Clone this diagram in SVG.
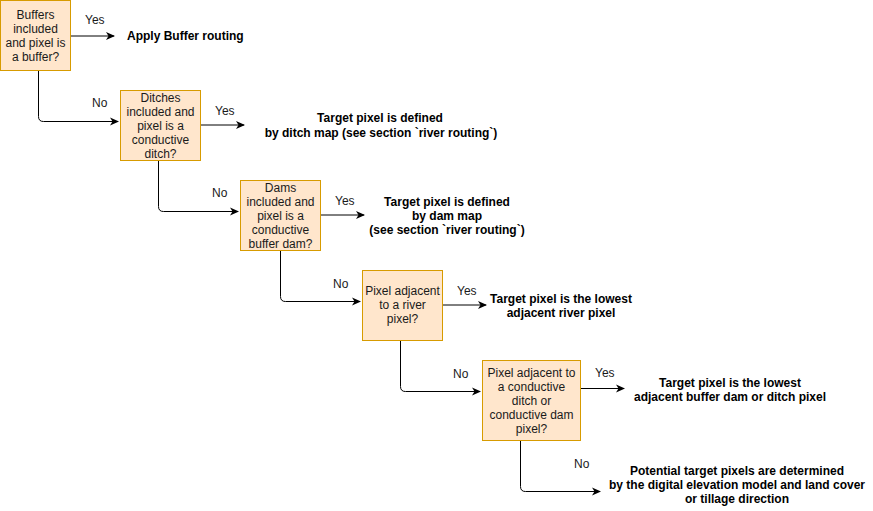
<svg xmlns="http://www.w3.org/2000/svg" width="873" height="511" viewBox="0 0 873 511">
<defs>
<marker id="arr" markerWidth="10" markerHeight="10" refX="8" refY="5" orient="auto" markerUnits="userSpaceOnUse">
<path d="M0,1 L9,5 L0,9 L2.5,5 Z" fill="#000"/>
</marker>
<style>
.box{fill:#ffe6cc;stroke:#d79b00;stroke-width:1}
.bt{font-family:"Liberation Sans",Arial,sans-serif;font-size:12px;fill:#1a1a1a;text-anchor:middle}
.lb{font-family:"Liberation Sans",Arial,sans-serif;font-size:12px;fill:#1a1a1a}
.res{font-family:"Liberation Sans",Arial,sans-serif;font-size:12px;font-weight:bold;fill:#000;text-anchor:middle}
.c{fill:none;stroke:#000;stroke-width:1}
</style>
</defs>
<rect width="873" height="511" fill="#fff"/>
<g id="connectors">
<path class="c" d="M70.5,36 H114" marker-end="url(#arr)"/>
<path class="c" d="M38.5,70.5 V116.5 Q38.5,121.5 43.5,121.5 H118" marker-end="url(#arr)"/>
<path class="c" d="M200.5,125 H244" marker-end="url(#arr)"/>
<path class="c" d="M158.5,160.5 V206.5 Q158.5,211.5 163.5,211.5 H238" marker-end="url(#arr)"/>
<path class="c" d="M320.5,215 H364" marker-end="url(#arr)"/>
<path class="c" d="M280.5,250.5 V296.5 Q280.5,301.5 285.5,301.5 H360" marker-end="url(#arr)"/>
<path class="c" d="M442.5,305 H486" marker-end="url(#arr)"/>
<path class="c" d="M400.5,340.5 V386.5 Q400.5,391.5 405.5,391.5 H480" marker-end="url(#arr)"/>
<path class="c" d="M580.5,388.5 H624" marker-end="url(#arr)"/>
<path class="c" d="M520.5,440.5 V486.5 Q520.5,491.5 525.5,491.5 H600" marker-end="url(#arr)"/>
<text class="lb" x="85" y="24">Yes</text>
<text class="lb" x="92" y="107">No</text>
<text class="lb" x="215" y="115">Yes</text>
<text class="lb" x="212" y="197">No</text>
<text class="lb" x="335" y="205">Yes</text>
<text class="lb" x="333" y="288">No</text>
<text class="lb" x="457" y="295">Yes</text>
<text class="lb" x="453" y="378">No</text>
<text class="lb" x="595" y="377">Yes</text>
<text class="lb" x="574" y="468">No</text>
</g>
<g id="n1">
<rect class="box" x="0.5" y="0.5" width="70" height="70"/>
<text class="bt" x="35.5" y="19">Buffers</text>
<text class="bt" x="35.5" y="33">included</text>
<text class="bt" x="35.5" y="47">and pixel is</text>
<text class="bt" x="35.5" y="61">a buffer?</text>
</g>
<g id="r1"><text class="res" x="127" y="40" style="text-anchor:start">Apply Buffer routing</text></g>
<g id="n2">
<rect class="box" x="120.5" y="90.5" width="80" height="70"/>
<text class="bt" x="160.5" y="102">Ditches</text>
<text class="bt" x="160.5" y="116">included and</text>
<text class="bt" x="160.5" y="130">pixel is a</text>
<text class="bt" x="160.5" y="144">conductive</text>
<text class="bt" x="160.5" y="158">ditch?</text>
</g>
<g id="r2">
<text class="res" x="380" y="122">Target pixel is defined</text>
<text class="res" x="381" y="137">by ditch map (see section `river routing`)</text>
</g>
<g id="n3">
<rect class="box" x="240.5" y="180.5" width="80" height="70"/>
<text class="bt" x="280.5" y="192">Dams</text>
<text class="bt" x="280.5" y="206">included and</text>
<text class="bt" x="280.5" y="220">pixel is a</text>
<text class="bt" x="280.5" y="234">conductive</text>
<text class="bt" x="280.5" y="248">buffer dam?</text>
</g>
<g id="r3">
<text class="res" x="447" y="206">Target pixel is defined</text>
<text class="res" x="447" y="220">by dam map</text>
<text class="res" x="447" y="234">(see section `river routing`)</text>
</g>
<g id="n4">
<rect class="box" x="362.5" y="270.5" width="80" height="70"/>
<text class="bt" x="402.5" y="295">Pixel adjacent</text>
<text class="bt" x="402.5" y="309">to a river</text>
<text class="bt" x="402.5" y="323">pixel?</text>
</g>
<g id="r4">
<text class="res" x="561" y="303">Target pixel is the lowest</text>
<text class="res" x="561" y="317">adjacent river pixel</text>
</g>
<g id="n5">
<rect class="box" x="482.5" y="360.5" width="98" height="80"/>
<text class="bt" x="531.5" y="377">Pixel adjacent to</text>
<text class="bt" x="531.5" y="391">a conductive</text>
<text class="bt" x="531.5" y="405">ditch or</text>
<text class="bt" x="531.5" y="419">conductive dam</text>
<text class="bt" x="531.5" y="433">pixel?</text>
</g>
<g id="r5">
<text class="res" x="730" y="387">Target pixel is the lowest</text>
<text class="res" x="730" y="401">adjacent buffer dam or ditch pixel</text>
</g>
<g id="r6">
<text class="res" x="737" y="475">Potential target pixels are determined</text>
<text class="res" x="737" y="489">by the digital elevation model and land cover</text>
<text class="res" x="737" y="503">or tillage direction</text>
</g>
</svg>
